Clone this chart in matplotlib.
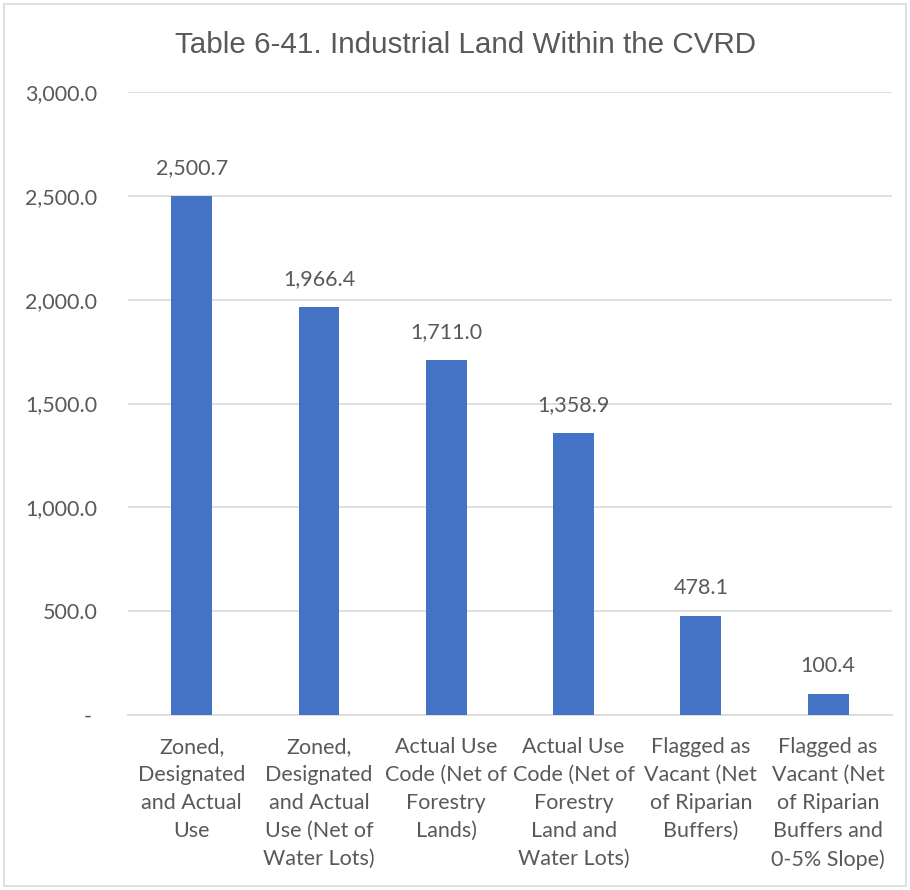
import matplotlib
matplotlib.use("Agg")
import matplotlib.pyplot as plt
from matplotlib.patches import Rectangle
from matplotlib.ticker import FuncFormatter, MultipleLocator

# Industrial land categories and areas
categories = [
    "Zoned,\nDesignated\nand Actual\nUse",
    "Zoned,\nDesignated\nand Actual\nUse (Net of\nWater Lots)",
    "Actual Use\nCode (Net of\nForestry\nLands)",
    "Actual Use\nCode (Net of\nForestry\nLand and\nWater Lots)",
    "Flagged as\nVacant (Net\nof Riparian\nBuffers)",
    "Flagged as\nVacant (Net\nof Riparian\nBuffers and\n0-5% Slope)",
]
areas = [2500.7, 1966.4, 1711.0, 1358.9, 478.1, 100.4]
title = "Table 6-41. Industrial Land Within the CVRD"

BAR = "#4472C4"
TEXT = "#595959"
GRID = "#D9D9D9"
LABEL_FONT = ["Lato", "DejaVu Sans"]
FS = 15.5

fig = plt.figure(figsize=(9.1, 8.9), dpi=100)
fig.patches.append(Rectangle((0.004, 0.004), 0.992, 0.992, transform=fig.transFigure,
                             fill=False, edgecolor=GRID, linewidth=1.2))

ax = fig.add_axes([0.1407, 0.1966, 0.8393, 0.70])
x = list(range(len(categories)))
bars = ax.bar(x, areas, width=0.32, color=BAR, zorder=3)

ax.set_ylim(0, 3000)
ax.set_xlim(-0.5, len(categories) - 0.5)
ax.yaxis.set_major_locator(MultipleLocator(500))


def fmt(v, _):
    return "- " if v == 0 else f"{v:,.1f}"


ax.yaxis.set_major_formatter(FuncFormatter(fmt))
ax.grid(axis="y", color=GRID, linewidth=1.2, zorder=0)
for s in ["top", "right", "left"]:
    ax.spines[s].set_visible(False)
ax.spines["bottom"].set_color(GRID)
ax.spines["bottom"].set_linewidth(1.2)
ax.tick_params(axis="both", length=0, colors=TEXT, labelsize=FS)
ax.tick_params(axis="y", pad=22)
ax.tick_params(axis="x", pad=16)
ax.set_xticks(x)
ax.set_xticklabels(categories, fontfamily=LABEL_FONT, linespacing=1.5, va="top")
for lab in ax.get_yticklabels():
    lab.set_fontfamily(LABEL_FONT)

for xi, v in zip(x, areas):
    ax.annotate(f"{v:,.1f}", (xi, v), xytext=(0, 13), textcoords="offset points",
                ha="center", va="bottom", color=TEXT, fontsize=FS, fontfamily=LABEL_FONT)

fig.text(0.511, 0.949, title, ha="center", va="center", color=TEXT,
         fontsize=21.3, fontfamily=["Liberation Sans", "DejaVu Sans"])

fig.savefig("out.png", dpi=100, facecolor="white")
